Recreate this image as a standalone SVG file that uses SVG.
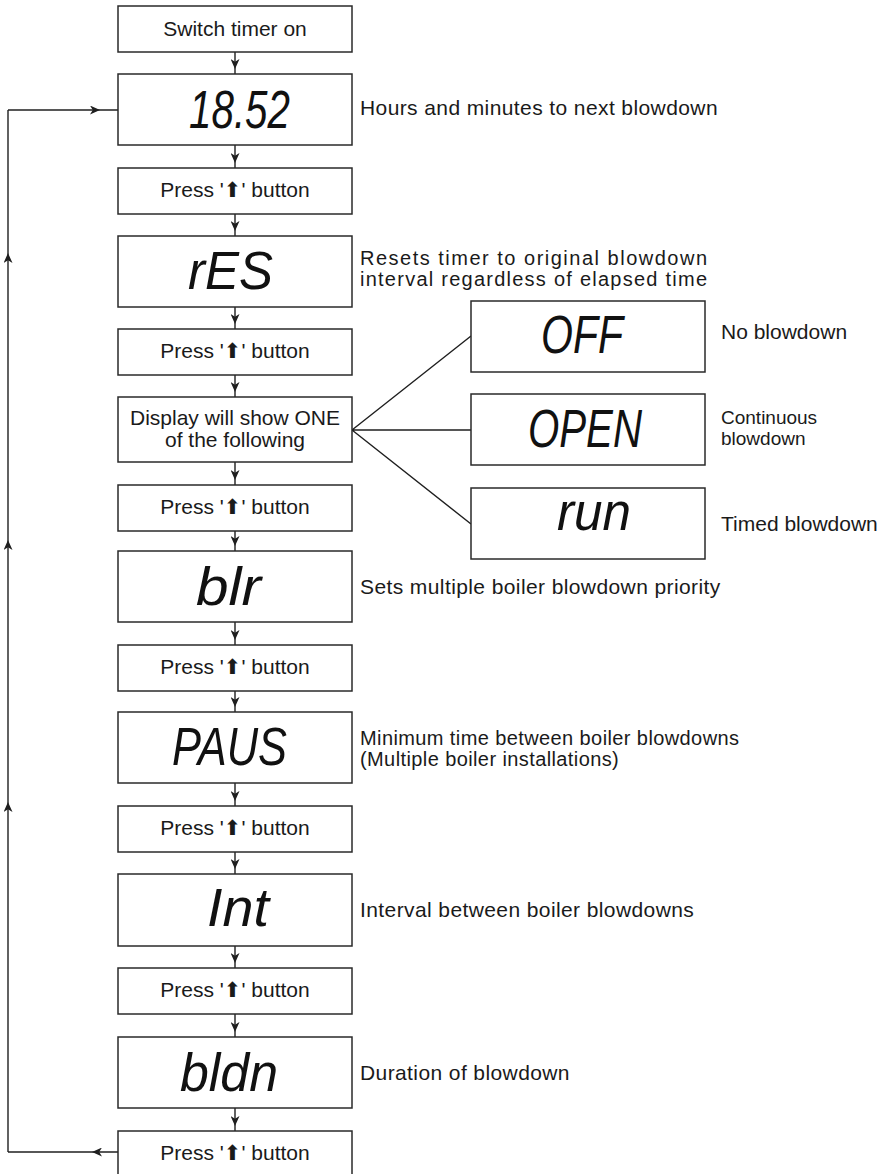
<svg xmlns="http://www.w3.org/2000/svg" width="882" height="1174" viewBox="0 0 882 1174">
<style>
.box{fill:#fff;stroke:#2a2a2a;stroke-width:1.5}
.t{font-family:"Liberation Sans",Arial,sans-serif;font-size:21px;fill:#1a1a1a}
.l{letter-spacing:0.4px}
.s{font-size:20px}
.xs{font-size:19px}
.c{text-anchor:middle}
.seg{font-family:"Liberation Sans",Arial,sans-serif;font-style:italic;font-size:54px;fill:#111}
.ar{font-family:"DejaVu Sans",sans-serif;font-size:21px}
.ln{fill:none;stroke:#1f1f1f;stroke-width:1.4}
.arr{fill:none;stroke:#1f1f1f;stroke-width:1.4;marker-mid:url(#ah)}
</style>
<defs>
<marker id="ah" markerUnits="userSpaceOnUse" markerWidth="11" markerHeight="9" refX="10" refY="4.5" orient="auto" viewBox="0 0 11 9">
<path d="M0,0 L10,4.5 L0,9 L2.8,4.5 z" fill="#1f1f1f"/>
</marker>
</defs>
<g id="connectors">
<path class="arr" d="M235,52 V69 V74"/>
<path class="arr" d="M235,145 V163 V168"/>
<path class="arr" d="M235,214 V231 V236"/>
<path class="arr" d="M235,307 V324 V329"/>
<path class="arr" d="M235,375 V392 V397"/>
<path class="arr" d="M235,462 V480 V485"/>
<path class="arr" d="M235,531 V546 V551"/>
<path class="arr" d="M235,622 V640 V645"/>
<path class="arr" d="M235,691 V707 V712"/>
<path class="arr" d="M235,783 V801 V806"/>
<path class="arr" d="M235,852 V869 V874"/>
<path class="arr" d="M235,946 V963 V968"/>
<path class="arr" d="M235,1014 V1032 V1037"/>
<path class="arr" d="M235,1108 V1126 V1131"/>
<path class="arr" d="M118,1152 H92 H8"/>
<path class="arr" d="M8,1152 V802 V540 V253 V110"/>
<path class="arr" d="M8,110 H100 H118"/>
<path class="ln" d="M352,430 L471,336 M352,430 H471 M352,430 L471,524"/>
</g>
<g id="n1"><rect class="box" x="118" y="6" width="234" height="46"/><text class="t c" x="235" y="36">Switch timer on</text></g>
<g id="n2"><rect class="box" x="118" y="74" width="234" height="71"/><text class="seg" x="189" y="128" textLength="101" lengthAdjust="spacingAndGlyphs">18.52</text></g>
<g id="n3"><rect class="box" x="118" y="168" width="234" height="46"/><text class="t c" x="235" y="197">Press '<tspan class="ar">⬆</tspan>' button</text></g>
<g id="n4"><rect class="box" x="118" y="236" width="234" height="71"/><text class="seg" x="188" y="289" textLength="85" lengthAdjust="spacingAndGlyphs">rES</text></g>
<g id="n5"><rect class="box" x="118" y="329" width="234" height="46"/><text class="t c" x="235" y="358">Press '<tspan class="ar">⬆</tspan>' button</text></g>
<g id="n6"><rect class="box" x="118" y="397" width="234" height="65"/><text class="t c" x="235" y="425">Display will show ONE</text><text class="t c" x="235" y="447">of the following</text></g>
<g id="n7"><rect class="box" x="118" y="485" width="234" height="46"/><text class="t c" x="235" y="514">Press '<tspan class="ar">⬆</tspan>' button</text></g>
<g id="n8"><rect class="box" x="118" y="551" width="234" height="71"/><text class="seg" x="196" y="605" textLength="65" lengthAdjust="spacingAndGlyphs">blr</text></g>
<g id="n9"><rect class="box" x="118" y="645" width="234" height="46"/><text class="t c" x="235" y="674">Press '<tspan class="ar">⬆</tspan>' button</text></g>
<g id="n10"><rect class="box" x="118" y="712" width="234" height="71"/><text class="seg" x="172" y="765" textLength="115" lengthAdjust="spacingAndGlyphs">PAUS</text></g>
<g id="n11"><rect class="box" x="118" y="806" width="234" height="46"/><text class="t c" x="235" y="835">Press '<tspan class="ar">⬆</tspan>' button</text></g>
<g id="n12"><rect class="box" x="118" y="874" width="234" height="72"/><text class="seg" x="207" y="926" textLength="62" lengthAdjust="spacingAndGlyphs">Int</text></g>
<g id="n13"><rect class="box" x="118" y="968" width="234" height="46"/><text class="t c" x="235" y="997">Press '<tspan class="ar">⬆</tspan>' button</text></g>
<g id="n14"><rect class="box" x="118" y="1037" width="234" height="71"/><text class="seg" x="180" y="1091" textLength="98" lengthAdjust="spacingAndGlyphs">bldn</text></g>
<g id="n15"><rect class="box" x="118" y="1131" width="234" height="48"/><text class="t c" x="235" y="1160">Press '<tspan class="ar">⬆</tspan>' button</text></g>
<g id="off"><rect class="box" x="471" y="301" width="234" height="71"/><text class="seg" x="541" y="353" textLength="82" lengthAdjust="spacingAndGlyphs">OFF</text></g>
<g id="open"><rect class="box" x="471" y="394" width="234" height="71"/><text class="seg" x="528" y="447" textLength="114" lengthAdjust="spacingAndGlyphs">OPEN</text></g>
<g id="run"><rect class="box" x="471" y="488" width="234" height="71"/><text class="seg" x="557" y="530" textLength="74" lengthAdjust="spacingAndGlyphs">run</text></g>
<g id="labels">
<text class="t l" x="360" y="115">Hours and minutes to next blowdown</text>
<text class="t s" x="360" y="265" textLength="347" lengthAdjust="spacing">Resets timer to original blowdown</text>
<text class="t s" x="360" y="286" textLength="347" lengthAdjust="spacing">interval regardless of elapsed time</text>
<text class="t" x="721" y="339">No blowdown</text>
<text class="t xs" x="721" y="424">Continuous</text>
<text class="t xs" x="721" y="445">blowdown</text>
<text class="t" x="721" y="531">Timed blowdown</text>
<text class="t l" x="360" y="594">Sets multiple boiler blowdown priority</text>
<text class="t s l" x="360" y="745">Minimum time between boiler blowdowns</text>
<text class="t s l" x="360" y="766">(Multiple boiler installations)</text>
<text class="t l" x="360" y="917">Interval between boiler blowdowns</text>
<text class="t l" x="360" y="1080">Duration of blowdown</text>
</g>
</svg>
